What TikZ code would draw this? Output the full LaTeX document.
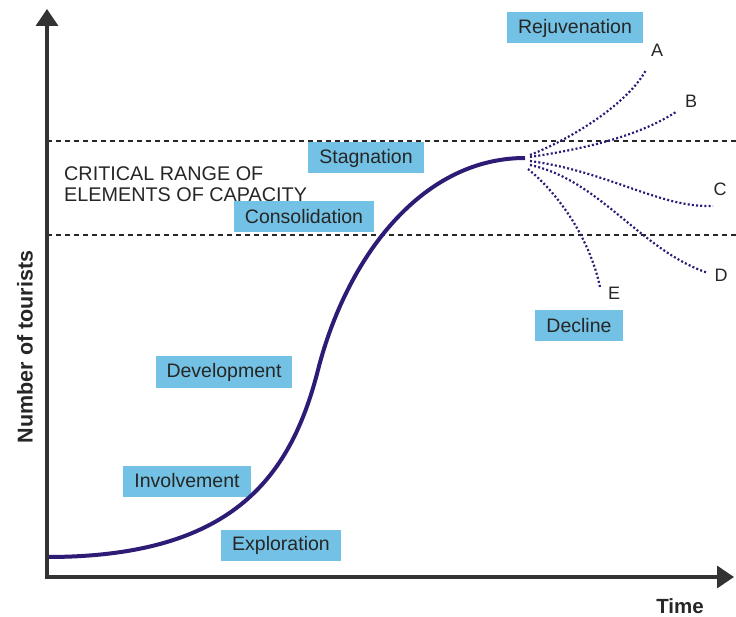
\documentclass[tikz,border=0pt]{standalone}
\usepackage{fontspec}
\setmainfont{Liberation Sans}
\usetikzlibrary{arrows.meta}
\definecolor{stagefill}{HTML}{73C1E4}
\definecolor{curvenavy}{HTML}{2D1B76}
\definecolor{axisgray}{HTML}{333333}
\tikzset{
  stage/.style={fill=stagefill, text=black!85, inner xsep=11pt, inner ysep=0pt, minimum height=31pt, font=\fontsize{19.5}{21}\selectfont},
  branch/.style={curvenavy, line width=2.2pt, dash pattern=on 2pt off 2.2pt},
  endlabel/.style={font=\fontsize{18}{20}\selectfont, inner sep=0pt, text=black!85},
  limit/.style={black!85, line width=2.8pt, dash pattern=on 4.5pt off 4.5pt},
  axis/.style={axisgray, line width=3.5pt, -{Triangle[length=17pt,width=22pt]}},
}

\begin{document}
\begin{tikzpicture}[x=1pt, y=-1pt]
\useasboundingbox (0,0) rectangle (736,617);
\coordinate[](O) at (47,579);
\coordinate[](Ytop) at (47,9);
\coordinate[](Xleft) at (45,577);
\coordinate[](Xend) at (734,577);
\coordinate[](Hi1) at (47,141);
\coordinate[](Hi2) at (736,141);
\coordinate[](Lo1) at (47,235);
\coordinate[](Lo2) at (736,235);

% critical range
\draw[limit] (Hi1)--(Hi2);
\draw[limit] (Lo1)--(Lo2);
\node[anchor=north west, align=left, inner sep=0pt, text=black!85, font=\fontsize{19.8}{21}\selectfont] (range) at (64,166) {CRITICAL RANGE OF\\ELEMENTS OF CAPACITY};

% stages
\node[stage] (rejuv) at (575,28) {Rejuvenation};
\node[stage] (stag) at (366,158) {Stagnation};
\node[stage] (consol) at (304,217) {Consolidation};
\node[stage] (devel) at (224,372) {Development};
\node[stage] (invol) at (187,481) {Involvement};
\node[stage] (explo) at (281,545) {Exploration};
\node[stage] (decl) at (579,326) {Decline};

% life cycle curve
\coordinate[](S) at (47,557);
\coordinate[](M) at (318,370);
\coordinate[](P) at (525,158);
\draw[curvenavy, line width=4pt] (S) .. controls (230,557) and (290,480) .. (M)
  .. controls (346,260) and (420,158) .. (P);

% branches after stagnation
\coordinate[](a0) at (530,155);
\coordinate[](b0) at (530,157);
\coordinate[](c0) at (530,161);
\coordinate[](d0) at (530,165);
\coordinate[](e0) at (528,169);
\coordinate[](a1) at (646,70);
\coordinate[](b1) at (676,112);
\coordinate[](c1) at (713,206);
\coordinate[](d1) at (708,273);
\coordinate[](e1) at (600,287);
\draw[branch] (a0) .. controls (580,135) and (630,100) .. (a1);
\draw[branch] (b0) .. controls (590,148) and (640,135) .. (b1);
\draw[branch] (c0) .. controls (610,172) and (660,208) .. (c1);
\draw[branch] (d0) .. controls (600,180) and (640,250) .. (d1);
\draw[branch] (e0) .. controls (560,195) and (590,240) .. (e1);
\node[endlabel] (A) at (657,50) {A};
\node[endlabel] (B) at (691,101) {B};
\node[endlabel] (C) at (720,189) {C};
\node[endlabel] (D) at (721,275) {D};
\node[endlabel] (E) at (614,293) {E};

% axes
\draw[axis] (O)--(Ytop);
\draw[axis] (Xleft)--(Xend);
\node[rotate=90, text=black!85, font=\bfseries\fontsize{21.5}{23}\selectfont] (ylab) at (25,347) {Number of tourists};
\node[text=black!85, font=\bfseries\fontsize{20.5}{22}\selectfont] (xlab) at (680,606) {Time};
\end{tikzpicture}
\end{document}
